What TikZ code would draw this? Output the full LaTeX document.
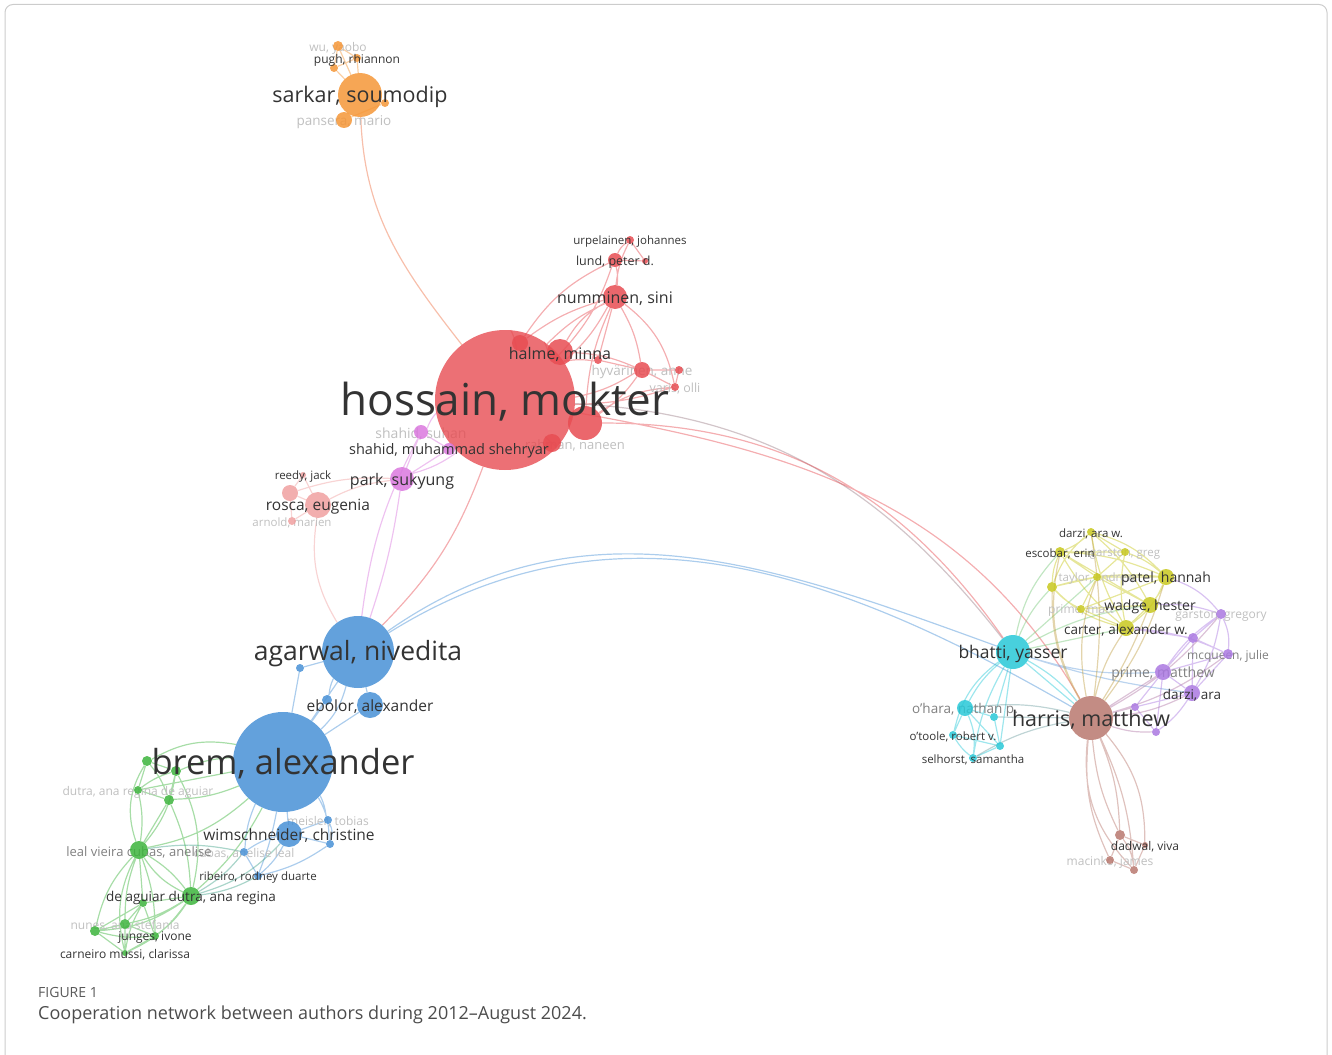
\documentclass[tikz,border=0pt]{standalone}
\usepackage{fontspec}
\setmainfont{Open Sans}
\usepackage{xcolor}
\usepackage{tikz}
\definecolor{cred}{RGB}{231,76,82}
\definecolor{corange}{RGB}{245,150,55}
\definecolor{cmag}{RGB}{218,120,222}
\definecolor{cpink}{RGB}{240,160,160}
\definecolor{cblue}{RGB}{72,145,214}
\definecolor{cgreen}{RGB}{60,180,60}
\definecolor{ccyan}{RGB}{40,200,215}
\definecolor{cyell}{RGB}{200,200,30}
\definecolor{cpurp}{RGB}{170,120,225}
\definecolor{cbrown}{RGB}{185,120,110}
\pgfdeclarelayer{back}
\pgfsetlayers{back,main}

\begin{document}
\begin{tikzpicture}[x=1pt, y=-1pt,
    author/.style={circle, inner sep=0pt, fill=#1, fill opacity=0.85},
    lbl/.style={font=\fontsize{#1}{#1}\selectfont, text=black!80, inner sep=0pt, yshift=-2pt},
    lbl/.default=12,
    grey/.style={lbl=#1, text=black!50},
    faint/.style={lbl=#1, text=black!25},
    link/.style={line width=1.2pt, draw=#1, draw opacity=0.45}]
    \useasboundingbox (0,0) rectangle (1332,1054);
    \draw[black!20, line width=1pt, rounded corners=8pt] (5,1070) -- (5,4.5) -- (1327,4.5) -- (1327,1070);

    % Orange cluster
    \node[author=corange, minimum size=44pt] (sarkar) at (360,95) {};
    \node[author=corange, minimum size=10pt] (wu) at (338,46) {};
    \node[author=corange, minimum size=8pt] (pugh) at (357,58) {};
    \node[author=corange, minimum size=8pt] (oa) at (334,68) {};
    \node[author=corange, minimum size=8pt] (ob) at (385,103) {};
    \node[author=corange, minimum size=16pt] (pansera) at (344,120) {};

    % Red cluster
    \node[author=cred, minimum size=140pt, fill opacity=0.8] (hossain) at (505,400) {};
    \node[author=cred, minimum size=26pt] (halme) at (560,352) {};
    \node[author=cred, minimum size=24pt] (numminen) at (615,297) {};
    \node[author=cred, minimum size=14pt] (lund) at (615,260) {};
    \node[author=cred, minimum size=8pt] (urpelainen) at (630,240) {};
    \node[author=cred, minimum size=6pt] (ra) at (645,261) {};
    \node[author=cred, minimum size=16pt] (rb) at (520,343) {};
    \node[author=cred, minimum size=8pt] (rc) at (598,360) {};
    \node[author=cred, minimum size=16pt] (hyvarinen) at (642,370) {};
    \node[author=cred, minimum size=8pt] (rd) at (679,370) {};
    \node[author=cred, minimum size=8pt] (varis) at (675,387) {};
    \node[author=cred, minimum size=34pt] (re) at (585,423) {};
    \node[author=cred, minimum size=18pt] (rf) at (552,443) {};

    % Pink and magenta clusters
    \node[author=cmag, minimum size=14pt] (shahidS) at (421,432) {};
    \node[author=cmag, minimum size=12pt] (shahidM) at (449,449) {};
    \node[author=cmag, minimum size=24pt] (park) at (402,479) {};
    \node[author=cpink, minimum size=26pt] (rosca) at (318,505) {};
    \node[author=cpink, minimum size=16pt] (pa) at (290,493) {};
    \node[author=cpink, minimum size=6pt] (reedy) at (303,475) {};
    \node[author=cpink, minimum size=8pt] (arnold) at (292,521) {};

    % Blue cluster
    \node[author=cblue, minimum size=72pt] (agarwal) at (358,652) {};
    \node[author=cblue, minimum size=100pt] (brem) at (283,762) {};
    \node[author=cblue, minimum size=26pt] (ebolor) at (370,705) {};
    \node[author=cblue, minimum size=26pt] (wimsch) at (289,834) {};
    \node[author=cblue, minimum size=8pt] (ba) at (300,668) {};
    \node[author=cblue, minimum size=10pt] (bb) at (327,700) {};
    \node[author=cblue, minimum size=8pt] (meisler) at (328,820) {};
    \node[author=cblue, minimum size=8pt] (bc) at (330,844) {};
    \node[author=cblue, minimum size=8pt] (cubasL) at (244,852) {};
    \node[author=cblue, minimum size=8pt] (ribeiro) at (258,876) {};

    % Green cluster
    \node[author=cgreen, minimum size=10pt] (ga) at (147,761) {};
    \node[author=cgreen, minimum size=10pt] (gb) at (176,771) {};
    \node[author=cgreen, minimum size=8pt] (dutraG) at (138,790) {};
    \node[author=cgreen, minimum size=10pt] (gc) at (169,800) {};
    \node[author=cgreen, minimum size=18pt] (leal) at (139,850) {};
    \node[author=cgreen, minimum size=18pt] (deaguiar) at (191,896) {};
    \node[author=cgreen, minimum size=8pt] (gd) at (143,903) {};
    \node[author=cgreen, minimum size=10pt] (nunes) at (125,924) {};
    \node[author=cgreen, minimum size=10pt] (ge) at (95,931) {};
    \node[author=cgreen, minimum size=8pt] (junges) at (155,936) {};
    \node[author=cgreen, minimum size=6pt] (carneiro) at (125,953) {};

    % Cyan cluster
    \node[author=ccyan, minimum size=34pt] (bhatti) at (1013,652) {};
    \node[author=ccyan, minimum size=16pt] (ohara) at (965,708) {};
    \node[author=ccyan, minimum size=8pt] (ca) at (994,717) {};
    \node[author=ccyan, minimum size=8pt] (otoole) at (953,735) {};
    \node[author=ccyan, minimum size=8pt] (cb) at (1000,746) {};
    \node[author=ccyan, minimum size=8pt] (selhorst) at (973,758) {};

    % Yellow cluster
    \node[author=cyell, minimum size=8pt] (darziW) at (1091,532) {};
    \node[author=cyell, minimum size=10pt] (escobar) at (1060,552) {};
    \node[author=cyell, minimum size=8pt] (garstonG) at (1125,552) {};
    \node[author=cyell, minimum size=8pt] (taylor) at (1097,577) {};
    \node[author=cyell, minimum size=10pt] (ya) at (1052,587) {};
    \node[author=cyell, minimum size=16pt] (patel) at (1166,577) {};
    \node[author=cyell, minimum size=8pt] (primeMt) at (1081,609) {};
    \node[author=cyell, minimum size=16pt] (wadge) at (1150,605) {};
    \node[author=cyell, minimum size=16pt] (carter) at (1126,628) {};

    % Purple cluster
    \node[author=cpurp, minimum size=10pt] (garstonGy) at (1221,614) {};
    \node[author=cpurp, minimum size=10pt] (pa2) at (1193,638) {};
    \node[author=cpurp, minimum size=10pt] (mcqueen) at (1228,654) {};
    \node[author=cpurp, minimum size=16pt] (primeM) at (1163,672) {};
    \node[author=cpurp, minimum size=16pt] (darziA) at (1192,693) {};
    \node[author=cpurp, minimum size=8pt] (pb) at (1135,707) {};
    \node[author=cpurp, minimum size=8pt] (pc) at (1156,732) {};

    % Brown cluster
    \node[author=cbrown, minimum size=44pt] (harris) at (1091,718) {};
    \node[author=cbrown, minimum size=10pt] (bra) at (1120,835) {};
    \node[author=cbrown, minimum size=6pt] (dadwal) at (1145,845) {};
    \node[author=cbrown, minimum size=8pt] (macinko) at (1110,860) {};
    \node[author=cbrown, minimum size=8pt] (brb) at (1134,870) {};

    % Links
    \begin{pgfonlayer}{back}
    \draw[link=corange] (sarkar) -- (wu) (sarkar) -- (pugh) (sarkar) -- (oa) (sarkar) -- (ob)
        (sarkar) -- (pansera) (wu) -- (oa) (pugh) -- (oa) (wu) -- (pugh) (pansera) -- (ob);
    \draw[link=corange!50!cred] (sarkar) to[out=-88, in=128] (hossain);
    \draw[link=cred] (hossain) to[bend left=15] (halme) (hossain) to[bend right=10] (numminen)
        (hossain) to[bend left=10] (numminen) (hossain) to[bend right=12] (lund)
        (hossain) to[bend left=10] (rb) (hossain) to[bend left=10] (rc)
        (hossain) to[bend right=10] (hyvarinen) (hossain) to[bend right=8] (varis)
        (hossain) -- (re) (hossain) -- (rf)
        (rb) to[bend left=10] (numminen) (rb) to[bend left=15] (lund)
        (numminen) to[bend right=10] (lund) (numminen) to[bend left=10] (urpelainen)
        (lund) to[bend left=15] (urpelainen) (lund) -- (ra) (urpelainen) -- (ra)
        (numminen) to[bend right=15] (halme) (numminen) to[bend left=10] (hyvarinen)
        (numminen) to[bend left=20] (varis) (numminen) -- (rc) (numminen) to[bend right=10] (re)
        (halme) to[bend left=10] (hyvarinen) (rc) -- (hyvarinen) (hyvarinen) -- (rd)
        (hyvarinen) -- (varis) (rd) -- (varis) (re) to[bend right=10] (hyvarinen)
        (re) to[bend left=15] (varis);
    \draw[link=cred!60!ccyan] (hossain) to[out=-3, in=128] (bhatti);
    \draw[link=cred] (re) to[out=0, in=125] (bhatti) (hossain) to[out=-10, in=120] (harris)
        (hossain) to[bend left=12] (agarwal);
    \draw[link=cblue] (agarwal) to[out=35, in=160] (bhatti) (agarwal) to[out=32, in=150] (harris);
    \draw[link=cmag] (park) -- (shahidS) (park) -- (shahidM) (shahidS) -- (shahidM)
        (shahidS) to[bend left=10] (hossain) (shahidM) -- (hossain) (park) to[bend right=10] (hossain)
        (park) to[bend left=5] (agarwal) (shahidS) to[bend right=10] (agarwal);
    \draw[link=cpink] (rosca) -- (pa) (rosca) -- (reedy) (rosca) -- (arnold) (pa) -- (reedy)
        (pa) -- (arnold) (rosca) to[bend left=10] (park) (pa) to[bend left=10] (park)
        (rosca) to[bend right=20] (agarwal);
    \draw[link=cblue] (agarwal) -- (brem) (agarwal) to[bend left=15] (brem)
        (agarwal) -- (ebolor) (agarwal) -- (ba) (agarwal) to[bend right=10] (bb)
        (brem) -- (ebolor) (brem) -- (ba) (brem) -- (bb) (brem) -- (wimsch)
        (brem) to[bend left=10] (meisler) (brem) to[bend left=15] (bc)
        (brem) to[bend right=10] (cubasL) (brem) to[bend left=5] (ribeiro)
        (wimsch) to[bend left=10] (ribeiro) (wimsch) to[bend right=10] (cubasL)
        (wimsch) -- (bc) (wimsch) -- (meisler) (cubasL) -- (ribeiro)
        (meisler) to[bend left=20] (bc) (bc) to[bend left=10] (ribeiro);
    \draw[link=cgreen] (brem) to[bend right=20] (ga) (brem) to[bend right=10] (gb)
        (brem) to[bend left=10] (gc) (brem) -- (dutraG)
        (brem) to[bend left=15] (leal) (brem) to[bend left=10] (deaguiar)
        (ga) -- (gb) (ga) -- (dutraG) (ga) to[bend left=10] (gc) (gb) -- (gc)
        (gb) to[bend right=10] (dutraG) (dutraG) -- (gc)
        (ga) to[bend right=25] (leal) (gb) to[bend left=15] (leal) (gc) -- (leal)
        (dutraG) to[bend left=10] (leal) (gb) to[bend left=20] (deaguiar) (gc) to[bend left=10] (deaguiar)
        (leal) to[bend left=10] (deaguiar) (leal) to[bend right=15] (deaguiar)
        (leal) -- (gd) (leal) to[bend right=10] (nunes) (leal) to[bend right=15] (ge)
        (leal) to[bend left=10] (junges) (leal) to[bend right=20] (carneiro)
        (deaguiar) -- (gd) (deaguiar) to[bend left=10] (nunes) (deaguiar) to[bend left=15] (ge)
        (deaguiar) to[bend left=10] (junges) (deaguiar) to[bend left=15] (carneiro)
        (gd) -- (nunes) (gd) -- (ge) (gd) -- (junges) (gd) to[bend right=10] (carneiro)
        (nunes) -- (ge) (nunes) -- (junges) (nunes) -- (carneiro)
        (ge) to[bend right=10] (junges) (ge) -- (carneiro) (junges) -- (carneiro);
    \draw[link=cgreen!50!cblue] (deaguiar) to[bend right=10] (ribeiro) (deaguiar) to[bend right=10] (cubasL)
        (leal) to[bend left=10] (cubasL) (deaguiar) to[bend right=15] (wimsch);
    \draw[link=ccyan] (bhatti) to[bend right=10] (ohara) (bhatti) -- (ca) (bhatti) to[bend right=20] (otoole)
        (bhatti) -- (cb) (bhatti) to[bend right=10] (selhorst)
        (ohara) -- (otoole) (ohara) to[bend left=15] (selhorst) (ohara) -- (ca) (ohara) -- (cb)
        (otoole) to[bend right=10] (selhorst) (ca) -- (cb) (cb) -- (selhorst) (otoole) -- (cb)
        (bhatti) -- (harris) (bhatti) to[bend left=10] (harris);
    \draw[link=ccyan!50!cbrown] (ohara) to[bend left=10] (harris) (selhorst) to[bend left=10] (harris) (ca) -- (harris);
    \draw[link=ccyan!50!cyell] (bhatti) to[bend left=10] (ya) (bhatti) to[bend left=15] (escobar)
        (bhatti) -- (carter) (bhatti) to[bend left=10] (wadge) (bhatti) -- (taylor);
    \draw[link=ccyan!50!cpurp] (bhatti) to[bend right=10] (primeM) (bhatti) to[bend right=5] (darziA);
    \draw[link=cyell] (darziW) to[bend left=10] (escobar) (darziW) -- (garstonG) (darziW) to[bend left=15] (patel)
        (darziW) to[bend right=15] (ya) (darziW) to[bend left=10] (wadge) (darziW) to[bend right=10] (carter)
        (escobar) -- (garstonG) (escobar) to[bend right=10] (ya) (escobar) to[bend left=10] (patel)
        (escobar) -- (taylor) (escobar) to[bend right=10] (carter) (escobar) -- (wadge)
        (garstonG) to[bend left=10] (patel) (garstonG) -- (taylor) (garstonG) to[bend right=10] (carter)
        (taylor) -- (ya) (taylor) -- (patel) (taylor) -- (wadge) (taylor) -- (primeMt)
        (ya) to[bend right=10] (primeMt) (ya) to[bend right=15] (carter) (ya) to[bend left=10] (patel)
        (patel) to[bend left=10] (wadge) (patel) to[bend left=15] (carter) (patel) -- (primeMt)
        (wadge) -- (carter) (wadge) -- (primeMt) (primeMt) -- (carter);
    \draw[link=cpurp] (garstonGy) -- (pa2) (garstonGy) to[bend left=15] (mcqueen)
        (garstonGy) to[bend right=10] (primeM) (garstonGy) to[bend left=10] (darziA)
        (pa2) -- (mcqueen) (pa2) -- (primeM) (pa2) -- (darziA) (mcqueen) -- (darziA) (mcqueen) -- (primeM)
        (primeM) -- (darziA) (primeM) -- (pb) (primeM) -- (pc) (darziA) -- (pb)
        (darziA) to[bend left=10] (pc) (pb) -- (pc)
        (garstonGy) to[bend right=10] (wadge) (garstonGy) to[bend right=15] (patel)
        (pa2) -- (carter) (mcqueen) to[bend right=10] (carter);
    \draw[link=cbrown] (harris) to[bend right=10] (bra) (harris) to[bend left=10] (bra)
        (harris) to[bend right=15] (macinko) (harris) to[bend left=20] (dadwal)
        (harris) to[bend left=10] (brb) (harris) to[bend right=25] (brb)
        (bra) -- (macinko) (bra) -- (dadwal) (macinko) -- (brb) (dadwal) -- (brb) (bra) to[bend left=15] (brb);
    \draw[link=cbrown!50!cyell] (harris) to[bend left=10] (carter) (harris) to[bend right=5] (wadge)
        (harris) to[bend right=10] (patel) (harris) to[bend left=15] (taylor) (harris) to[bend left=20] (escobar)
        (harris) to[bend left=15] (ya) (harris) to[bend right=8] (darziW);
    \draw[link=cbrown!50!cpurp] (harris) -- (primeM) (harris) to[bend right=10] (darziA) (harris) -- (pb)
        (harris) to[bend right=10] (pc) (harris) to[bend right=10] (mcqueen) (harris) to[bend right=10] (garstonGy);

    % Pale labels, under the circles
    \node[faint=12] (wuL) at (wu) {wu, yaobo};
    \node[faint=13.5] (panseraL) at (pansera) {pansera, mario};
    \node[faint=13.5] (hyvarinenL) at (hyvarinen) {hyvärinen, anne};
    \node[faint=12.5] (varisL) at (varis) {varis, olli};
    \node[faint=13] (rfL) at (575,443) {rahman, naneen};
    \node[faint=14] (shahidSL) at (shahidS) {shahid, suhan};
    \node[faint=11.5] (arnoldL) at (arnold) {arnold, marien};
    \node[faint=12] (meislerL) at (meisler) {meisler, tobias};
    \node[faint=12] (cubasLL) at (cubasL) {cubas, anelise leal};
    \node[faint=12] (dutraGL) at (dutraG) {dutra, ana regina de aguiar};
    \node[grey=13] (lealL) at (leal) {leal vieira cubas, anelise};
    \node[faint=12] (nunesL) at (nunes) {nunes, ana stefania};
    \node[grey=13.5] (oharaL) at (ohara) {o'hara, nathan p.};
    \node[faint=11.5] (garstonGL) at (garstonG) {garston, greg};
    \node[faint=11.5] (taylorL) at (taylor) {taylor, andrew};
    \node[faint=12] (primeMtL) at (primeMt) {prime, matt};
    \node[faint=12] (garstonGyL) at (garstonGy) {garston, gregory};
    \node[grey=12] (mcqueenL) at (mcqueen) {mcqueen, julie};
    \node[grey=14] (primeML) at (primeM) {prime, matthew};
    \node[faint=12] (macinkoL) at (macinko) {macinko, james};
    \end{pgfonlayer}

    % Labels
    \node[lbl=12] (pughL) at (pugh) {pugh, rhiannon};
    \node[lbl=21.5] (sarkarL) at (sarkar) {sarkar, soumodip};

    \node[lbl=11.5] (urpelainenL) at (urpelainen) {urpelainen, johannes};
    \node[lbl=12.5] (lundL) at (lund) {lund, peter d.};
    \node[lbl=16] (numminenL) at (numminen) {numminen, sini};
    \node[lbl=16] (halmeL) at (halme) {halme, minna};
    \node[lbl=44] (hossainL) at (hossain) {hossain, mokter};
    \node[lbl=14.5] (shahidML) at (shahidM) {shahid, muhammad shehryar};
    \node[lbl=16] (parkL) at (park) {park, sukyung};
    \node[lbl=11.5] (reedyL) at (reedy) {reedy, jack};
    \node[lbl=15.5] (roscaL) at (rosca) {rosca, eugenia};

    \node[lbl=26.5] (agarwalL) at (agarwal) {agarwal, nivedita};
    \node[lbl=15.5] (ebolorL) at (ebolor) {ebolor, alexander};
    \node[lbl=34.5] (bremL) at (brem) {brem, alexander};
    \node[lbl=15.5] (wimschL) at (wimsch) {wimschneider, christine};
    \node[lbl=11.5] (ribeiroL) at (ribeiro) {ribeiro, rodney duarte};

    \node[lbl=13.5] (deaguiarL) at (deaguiar) {de aguiar dutra, ana regina};
    \node[lbl=12] (jungesL) at (junges) {junges, ivone};
    \node[lbl=12] (carneiroL) at (carneiro) {carneiro mussi, clarissa};

    \node[lbl=17.5] (bhattiL) at (bhatti) {bhatti, yasser};
    \node[lbl=11.5] (otooleL) at (otoole) {o'toole, robert v.};
    \node[lbl=11.5] (selhorstL) at (selhorst) {selhorst, samantha};

    \node[lbl=11.5] (darziWL) at (darziW) {darzi, ara w.};
    \node[lbl=11.5] (escobarL) at (escobar) {escobar, erin};
    \node[lbl=14] (patelL) at (patel) {patel, hannah};
    \node[lbl=14] (wadgeL) at (wadge) {wadge, hester};
    \node[lbl=13.5] (carterL) at (carter) {carter, alexander w.};

    \node[lbl=13.5] (darziAL) at (darziA) {darzi, ara};
    \node[lbl=21.5] (harrisL) at (harris) {harris, matthew};
    \node[lbl=12] (dadwalL) at (dadwal) {dadwal, viva};

    % Caption
    \node[anchor=west, inner sep=0pt, font=\fontsize{14}{15}\selectfont, text=black!65] (figno) at (38,992) {FIGURE 1};
    \node[anchor=west, inner sep=0pt, font=\fontsize{18}{20}\selectfont, text=black!70] (caption) at (38,1015)
        {Cooperation network between authors during 2012--August 2024.};
\end{tikzpicture}
\end{document}
